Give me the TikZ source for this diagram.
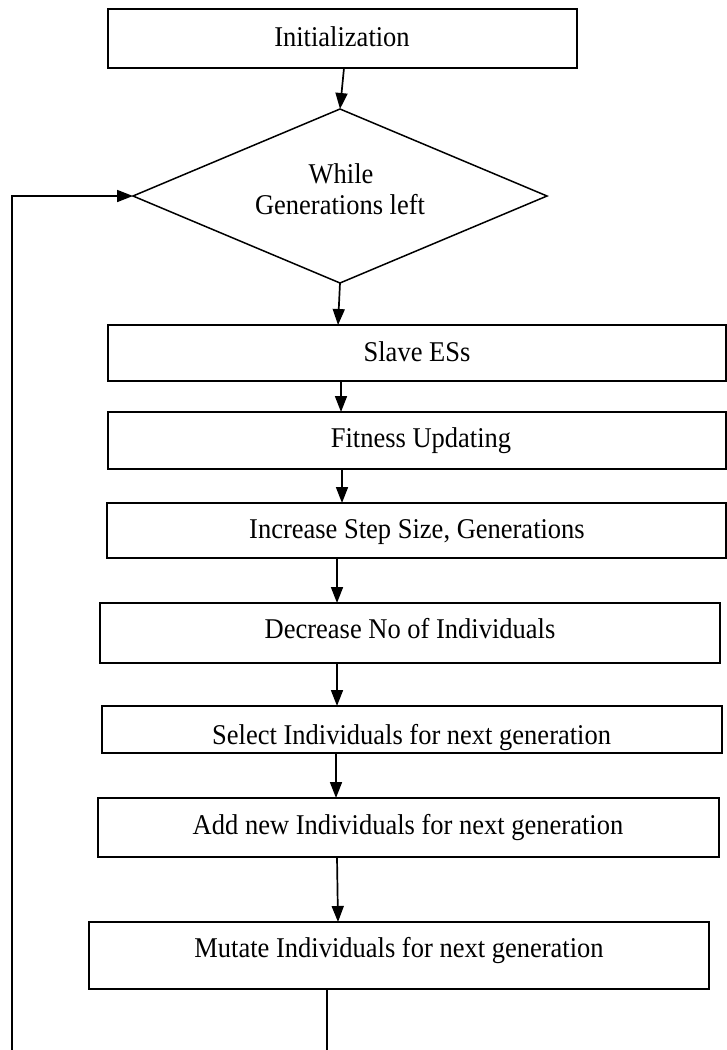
\documentclass[tikz,border=0pt]{standalone}
\usepackage{fontspec}
\usepackage{graphicx}
\setmainfont{Liberation Serif}
\usetikzlibrary{shapes.geometric,arrows.meta}
\newcommand{\tallt}[1]{\scalebox{1}[1.08]{#1}}
\begin{document}
\begin{tikzpicture}[x=1pt,y=-1pt,
  stepbox/.style={draw,line width=1.7pt,rectangle,inner sep=0pt,outer sep=0pt},
  decbox/.style={draw,line width=1.5pt,diamond,inner sep=0pt,outer sep=0pt,minimum width=414pt,minimum height=174pt},
  lbl/.style={anchor=base,inner sep=0pt,font=\fontsize{26.5}{30}\selectfont},
  arr/.style={line width=1.7pt,-{Triangle[length=16pt,width=12pt]}},
  ln/.style={line width=1.6pt}]
\useasboundingbox (0,0) rectangle (727,1050);
\fill[white] (0,0) rectangle (727,1050);

% boxes
\node[stepbox,minimum width=469pt,minimum height=59pt] (init) at (342.5,38.5) {};
\node[decbox] (dia) at (340,196) {};
\node[stepbox,minimum width=618pt,minimum height=56pt] (slave) at (417,353) {};
\node[stepbox,minimum width=618pt,minimum height=57pt] (fit) at (417,440.5) {};
\node[stepbox,minimum width=619pt,minimum height=55pt] (inc) at (416.5,530.5) {};
\node[stepbox,minimum width=620pt,minimum height=60pt] (dec) at (410,633) {};
\node[lbl] (tsel) at (411.6,744) {\tallt{Select Individuals for next generation}};
\node[stepbox,minimum width=620pt,minimum height=47pt] (sel) at (412,729.5) {};
\node[stepbox,minimum width=621pt,minimum height=59pt] (add) at (408.5,827.5) {};
\node[stepbox,minimum width=620pt,minimum height=67pt] (mut) at (399,955.5) {};

% labels
\node[lbl] (tinit) at (342,46) {\tallt{Initialization}};
\node[lbl] (twhile) at (341,183) {\tallt{While}};
\node[lbl] (tgen) at (340,214) {\tallt{Generations left}};
\node[lbl] (tslave) at (417,361) {\tallt{Slave ESs}};
\node[lbl] (tfit) at (421,447) {\tallt{Fitness Updating}};
\node[lbl] (tinc) at (417,538) {\tallt{Increase Step Size, Generations}};
\node[lbl] (tdec) at (410,638) {\tallt{Decrease No of Individuals}};
\node[lbl] (tadd) at (408,834) {\tallt{Add new Individuals for next generation}};
\node[lbl] (tmut) at (399,957) {\tallt{Mutate Individuals for next generation}};

% connectors
\draw[arr] ([xshift=1.5pt]init.south) -- (dia.north);
\draw[arr] (dia.south) -- ([xshift=-79pt]slave.north);
\draw[arr] ([xshift=-76pt]slave.south) -- ([xshift=-76pt]fit.north);
\draw[arr] ([xshift=-75pt]fit.south) -- ([xshift=-74.5pt]inc.north);
\draw[arr] ([xshift=-79.5pt]inc.south) -- ([xshift=-73pt]dec.north);
\draw[arr] ([xshift=-73pt]dec.south) -- ([xshift=-75pt]sel.north);
\draw[arr] ([xshift=-76pt]sel.south) -- ([xshift=-72.5pt]add.north);
\draw[arr] ([xshift=-71.5pt]add.south) -- ([xshift=-61pt]mut.north);

\coordinate (botR) at (327,1050);
\coordinate (botL) at (12,1050);
\draw[ln] ([xshift=-72pt]mut.south) -- (botR);
\draw[arr] (botL) |- (dia.west);
\end{tikzpicture}
\end{document}
